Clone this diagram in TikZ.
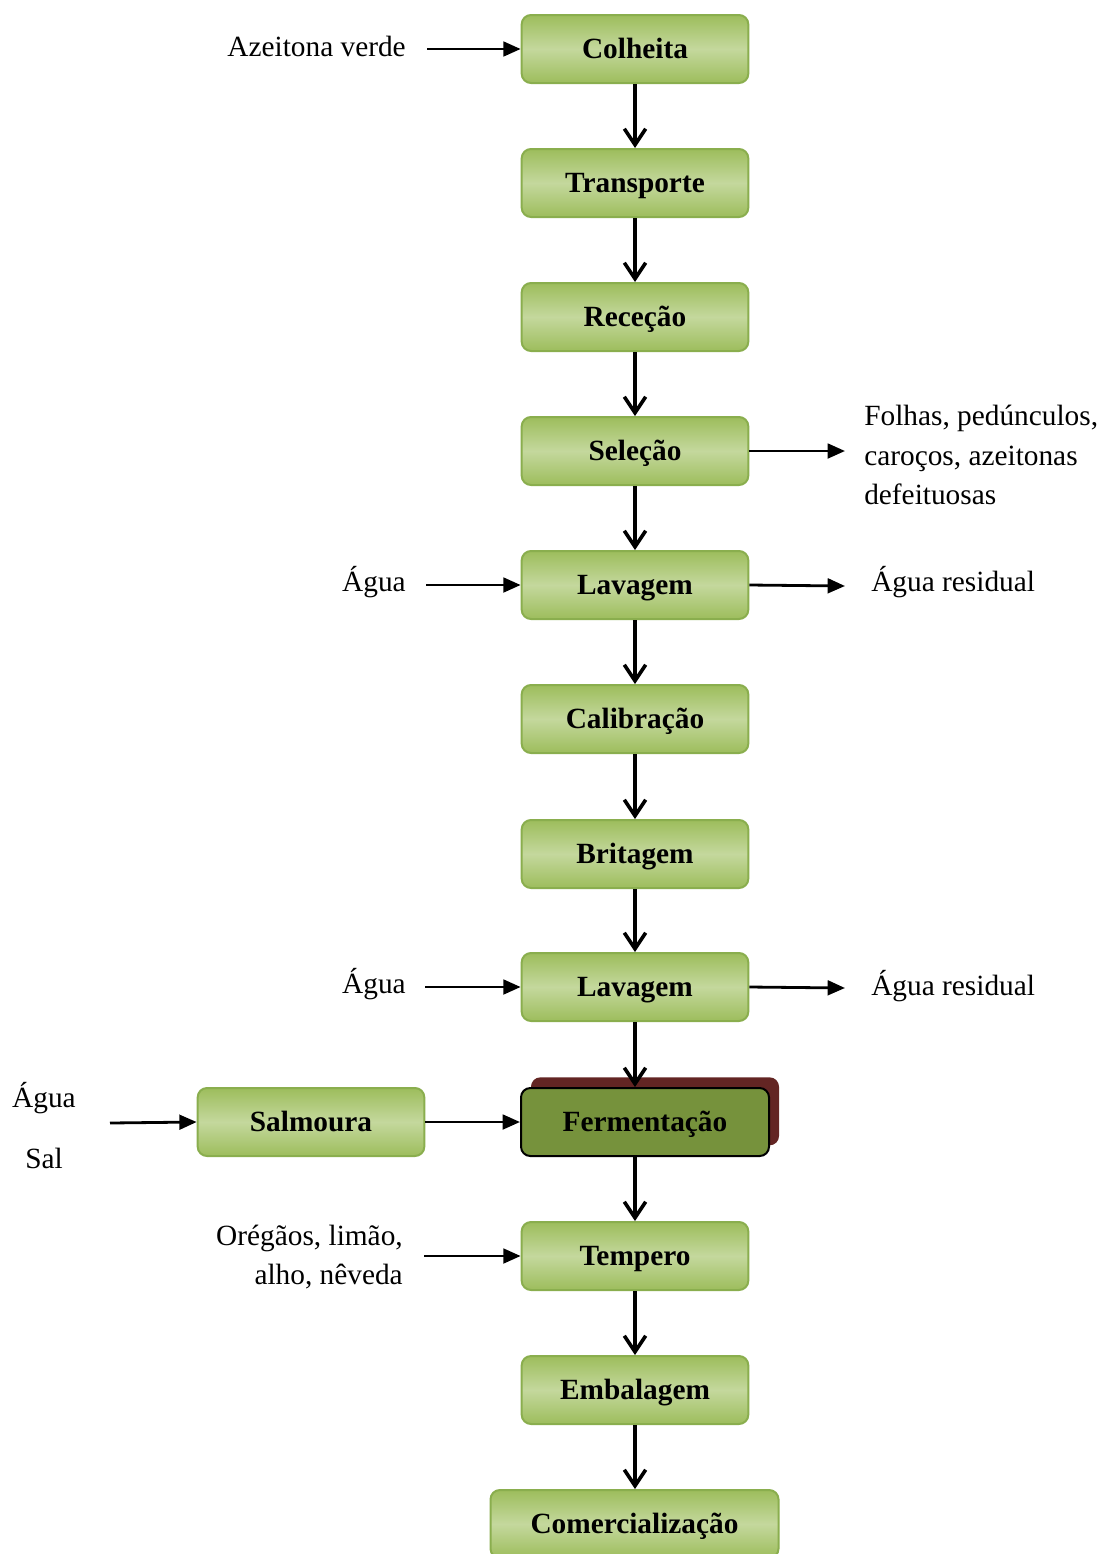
\documentclass[tikz,border=0pt]{standalone}
\usepackage{fontspec}
\setmainfont{Liberation Serif}
\usetikzlibrary{shapes,arrows,arrows.meta,positioning,fit,calc,shadows}

\definecolor{boxdark}{HTML}{9DBD5C}
\definecolor{boxlight}{HTML}{C4D89D}
\definecolor{boxedge}{HTML}{8AAE4E}
\definecolor{fermfill}{HTML}{76923C}
\definecolor{shadowred}{HTML}{632523}

\tikzset{
    stagebase/.style={rounded corners=7pt, line width=1.5pt,
        minimum width=170pt, minimum height=51pt, inner sep=0pt,
        text height=16pt, text depth=2.5pt,
        font=\fontsize{22}{29}\selectfont\bfseries},
    stage/.style={stagebase, draw=boxedge,
        top color=boxdark, bottom color=boxdark, middle color=boxlight},
    label/.style={inner sep=0pt, align=left, font=\fontsize{22}{29.3}\selectfont},
    down/.style={line width=2.7pt, -{Straight Barb[length=12pt,width=16pt,line width=2.7pt]}},
    side/.style={line width=2.1pt, -{Triangle[length=13pt,width=11pt]}}
}

\begin{document}
\begin{tikzpicture}[x=0.75pt, y=-0.75pt]
    \useasboundingbox (0,0) rectangle (1101,1554);

    % Main line
    \node[stage] (colheita) at (635,49) {Colheita};
    \node[stage] (transporte) at (635,183) {Transporte};
    \node[stage] (rececao) at (635,317) {Receção};
    \node[stage] (selecao) at (635,451) {Seleção};
    \node[stage] (lavagemA) at (635,585) {Lavagem};
    \node[stage] (calibracao) at (635,719) {Calibração};
    \node[stage] (britagem) at (635,854) {Britagem};
    \node[stage] (lavagemB) at (635,987) {Lavagem};
    \node[stagebase, fill=fermfill, draw=black, minimum width=186pt,
        copy shadow={shadow xshift=7.5pt, shadow yshift=8pt, fill=shadowred, draw=none}]
        (fermentacao) at (645,1122) {Fermentação};
    \node[stage] (tempero) at (635,1256) {Tempero};
    \node[stage] (embalagem) at (635,1390) {Embalagem};
    \node[stage, minimum width=216pt] (comercializacao) at (634.5,1524) {Comercialização};

    % Brine
    \node[stage] (salmoura) at (311,1122) {Salmoura};

    % Inputs
    \node[label, anchor=east] (azeitona) at (406,46) {Azeitona verde};
    \node[label, anchor=east] (aguaA) at (406,582) {Água};
    \node[label, anchor=east] (aguaB) at (406,984) {Água};
    \node[label, anchor=east, align=right] (tempera) at (403,1257) {Orégãos, limão,\\alho, nêveda};
    \node[label] (aguaC) at (44,1098) {Água};
    \node[label] (sal) at (44,1158) {Sal};
    \coordinate (salin) at (110,1123);

    % Outputs
    \node[label, anchor=west] (residuos) at (864,455) {Folhas, pedúnculos,\\caroços, azeitonas\\defeituosas};
    \node[label, anchor=west] (residualA) at (871,582) {Água residual};
    \node[label, anchor=west] (residualB) at (871,986) {Água residual};

    % Vertical arrows
    \foreach \a/\b in {colheita/transporte, transporte/rececao, rececao/selecao,
        selecao/lavagemA, lavagemA/calibracao, calibracao/britagem, britagem/lavagemB,
        lavagemB/fermentacao, fermentacao/tempero, tempero/embalagem,
        embalagem/comercializacao} {
        \draw[down] (\a.south -| colheita) -- (\b.north -| colheita);
    }

    % Side arrows
    \draw[side] (427,49) -- (colheita.west);
    \draw[side] (426,585) -- (lavagemA.west);
    \draw[side] (425,987) -- (lavagemB.west);
    \draw[side] (424,1256) -- (tempero.west);
    \draw[side] (salin) -- (salmoura.west);
    \draw[side] (salmoura.east) -- (fermentacao.west |- salmoura.east);
    \draw[side] (selecao.east) -- (845,451);
    \draw[side] (lavagemA.east) -- (845,586);
    \draw[side] (lavagemB.east) -- (845,988);
\end{tikzpicture}
\end{document}
